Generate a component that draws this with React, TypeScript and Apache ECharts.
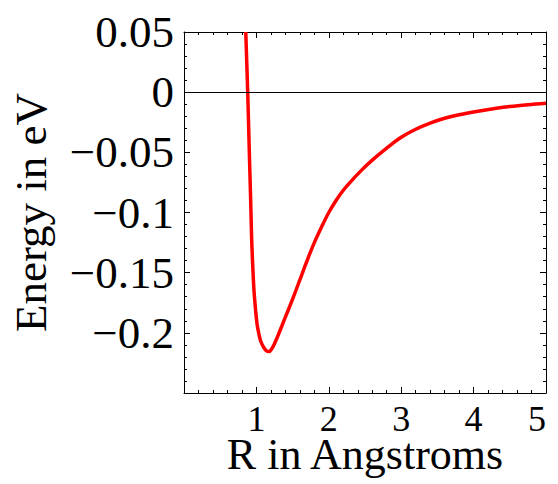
import React, { useEffect, useRef } from "react";
import * as echarts from "echarts";

const rValues = [0.853, 0.88, 0.9, 0.92, 0.935, 0.95, 0.967, 0.99, 1.01, 1.035, 1.06, 1.1, 1.14, 1.175, 1.21, 1.25, 1.3, 1.4, 1.5, 1.6, 1.7, 1.8, 1.9, 2.0, 2.1, 2.2, 2.3, 2.45, 2.6, 2.8, 3.0, 3.2, 3.4, 3.6, 3.8, 4.0, 4.25, 4.5, 4.75, 5.0];
const energyValues = [0.05, 0, -0.045, -0.088, -0.123, -0.145, -0.165, -0.182, -0.193, -0.201, -0.207, -0.212, -0.215, -0.2155, -0.2135, -0.209, -0.202, -0.187, -0.172, -0.156, -0.14, -0.125, -0.112, -0.1, -0.09, -0.0815, -0.0745, -0.065, -0.0565, -0.0465, -0.0375, -0.0308, -0.0257, -0.0217, -0.0187, -0.0164, -0.014, -0.012, -0.0105, -0.0093];
const xRange = [0, 5];
const yRange = [-0.25, 0.05];
const xTitle = "R in Angstroms";
const yTitle = "Energy in eV";

const FONT = "'Liberation Serif', 'Times New Roman', serif";

function fmtY(v: number): string {
  if (Math.abs(v) < 1e-9) return "0";
  if (v < -0.2499) return "";
  const s = parseFloat(Math.abs(v).toFixed(2)).toString();
  return (v < 0 ? "\u2212" : "") + s;
}

export default function App() {
  const ref = useRef<HTMLDivElement>(null);
  useEffect(() => {
    if (!ref.current) return;
    const chart = echarts.init(ref.current, undefined, { renderer: "svg" });
    const tick = { show: true, inside: true, length: 6, lineStyle: { color: "#000", width: 1 } };
    const minor = { show: true, splitNumber: 5, length: 3, lineStyle: { color: "#000", width: 1 } };
    const line = { show: true, lineStyle: { color: "#000", width: 1 } };
    chart.setOption({
      animation: false,
      backgroundColor: "#fff",
      grid: { left: 184, right: 12, top: 32, bottom: 91, containLabel: false, outerBoundsMode: "none" },
      xAxis: [
        {
          type: "value",
          min: xRange[0],
          max: xRange[1],
          interval: 1,
          position: "bottom",
          axisLine: { ...line, onZero: false },
          axisTick: tick,
          minorTick: minor,
          splitLine: { show: false },
          axisLabel: {
            fontFamily: FONT,
            fontSize: 36,
            lineHeight: 34,
            color: "#000",
            margin: 9,
            alignMaxLabel: "right",
            formatter: (v: number) => (v === 0 ? "" : String(v)),
          },
          name: xTitle,
          nameLocation: "middle",
          nameGap: 43,
          nameMoveOverlap: false,
          nameTextStyle: { fontFamily: FONT, fontSize: 44, lineHeight: 36, color: "#000" },
        },
        {
          type: "value",
          min: xRange[0],
          max: xRange[1],
          interval: 1,
          position: "top",
          axisLine: { ...line, onZero: false },
          axisTick: tick,
          minorTick: minor,
          splitLine: { show: false },
          axisLabel: { show: false },
        },
      ],
      yAxis: [
        {
          type: "value",
          min: yRange[0],
          max: yRange[1],
          interval: 0.05,
          position: "left",
          axisLine: { ...line, onZero: false },
          axisTick: tick,
          minorTick: minor,
          splitLine: { show: false },
          axisLabel: {
            fontFamily: FONT,
            fontSize: 45,
            color: "#000",
            margin: 10,
            formatter: fmtY,
          },
          name: yTitle,
          nameLocation: "middle",
          nameGap: 131,
          nameMoveOverlap: false,
          nameTextStyle: { fontFamily: FONT, fontSize: 45, color: "#000" },
        },
        {
          type: "value",
          min: yRange[0],
          max: yRange[1],
          interval: 0.05,
          position: "right",
          axisLine: { ...line, onZero: false },
          axisTick: tick,
          minorTick: minor,
          splitLine: { show: false },
          axisLabel: { show: false },
        },
      ],
      series: [
        {
          type: "line",
          data: rValues.map((r, i) => [r, energyValues[i]]),
          xAxisIndex: 0,
          yAxisIndex: 0,
          showSymbol: false,
          symbol: "none",
          smooth: 0.35,
          clip: true,
          lineStyle: { color: "#ff0000", width: 3.5 },
          markLine: {
            silent: true,
            symbol: "none",
            label: { show: false },
            lineStyle: { color: "#000", width: 1, type: "solid" },
            data: [{ yAxis: 0 }],
          },
          z: 3,
        },
      ],
    });
    return () => chart.dispose();
  }, []);
  return <div ref={ref} style={{ width: 558, height: 484, marginLeft: -8, marginTop: -8 }} />;
}
